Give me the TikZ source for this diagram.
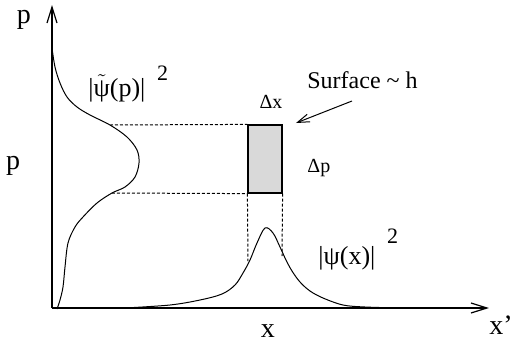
\documentclass[tikz,border=0pt]{standalone}
\usepackage{fontspec}
\setmainfont{Liberation Serif}
\usetikzlibrary{arrows.meta}
\tikzset{
    axis/.style={line width=0.6pt, -{Straight Barb[length=8pt,width=5pt]}},
    guide/.style={line width=0.5pt, dash pattern=on 1.5pt off 1pt},
    curve/.style={line width=0.5pt, smooth, tension=0.55},
    lbl/.style={inner sep=0pt, font=\fontsize{12}{14}\selectfont},
    big/.style={inner sep=0pt, font=\fontsize{14}{16}\selectfont},
    small/.style={inner sep=0pt, font=\fontsize{10}{12}\selectfont},
}
\begin{document}
\begin{tikzpicture}[x=0.5pt, y=-0.5pt]
    \useasboundingbox (0, 0) rectangle (511, 344);
    % Axes
    \coordinate (origin) at (52, 308);
    \coordinate (ptop) at (52, 5);
    \coordinate (xend) at (489, 308);
    \draw[axis] (origin) -- (ptop);
    \draw[axis] (origin) -- (xend);
    \node (ptoplabel) at (24, 23) [big, anchor=base] {p};
    \node (pmid) at (13, 169) [big, anchor=base] {p};
    \node (xmid) at (268, 337) [big, anchor=base] {x};
    \node (xlabel) at (489, 334) [big, anchor=base west] {x’};
    % Momentum distribution
    \draw[curve] plot coordinates {(52,48) (55,67) (60,83) (67,97) (77,107)
        (90,115) (110,125) (127,137) (137,150) (139,163) (135,177) (125,187)
        (112,193) (97,203) (83,217) (75,227) (68,243) (65,267) (63,287)
        (60,300) (57,309)};
    \node (psitilde) at (88, 96) [lbl, anchor=base west, font=\fontsize{13}{15}\selectfont]
        {|$\tilde{\hbox{ψ}}$(p)|\hspace{0.45em}\raisebox{0.6em}{\fontsize{11}{13}\selectfont 2}};
    % Position distribution
    \draw[curve] plot coordinates {(125,308) (170,305) (200,300) (222,294)
        (235,285) (243,273) (250,260) (257,243) (265,228) (273,233) (280,247)
        (286,260) (292,271) (300,282) (310,291) (323,298) (343,305)
        (365,307) (400,308)};
    \node (psix) at (318, 264) [lbl, anchor=base west, font=\fontsize{13}{15}\selectfont]
        {|ψ(x)|\hspace{0.45em}\raisebox{0.8em}{\fontsize{11}{13}\selectfont 2}};
    % Cell of area h
    \node (cell) at (265, 159) [draw, fill=gray!30, line width=0.6pt,
        minimum width=17pt, minimum height=34pt, inner sep=0pt] {};
    \coordinate (ptilde top) at (110, 125);
    \coordinate (ptilde bot) at (112, 193);
    \coordinate (psi left) at (248, 261);
    \coordinate (psi right) at (282, 256);
    \draw[guide] (ptilde top) -- (cell.north west);
    \draw[guide] (ptilde bot) -- (cell.south west);
    \draw[guide] (cell.south west) -- (psi left);
    \draw[guide] (cell.south east) -- (psi right);
    \node (dx) at (271, 108) [small, anchor=base] {Δx};
    \node (dp) at (307, 172) [small, anchor=base west] {Δp};
    \node (surface) at (307, 88) [lbl, anchor=base west] {Surface \textasciitilde\ h};
    \coordinate (tip) at (296, 123);
    \draw[line width=0.5pt, -{Straight Barb[length=6pt,width=4pt]}] (352, 101) -- (tip);
\end{tikzpicture}
\end{document}
